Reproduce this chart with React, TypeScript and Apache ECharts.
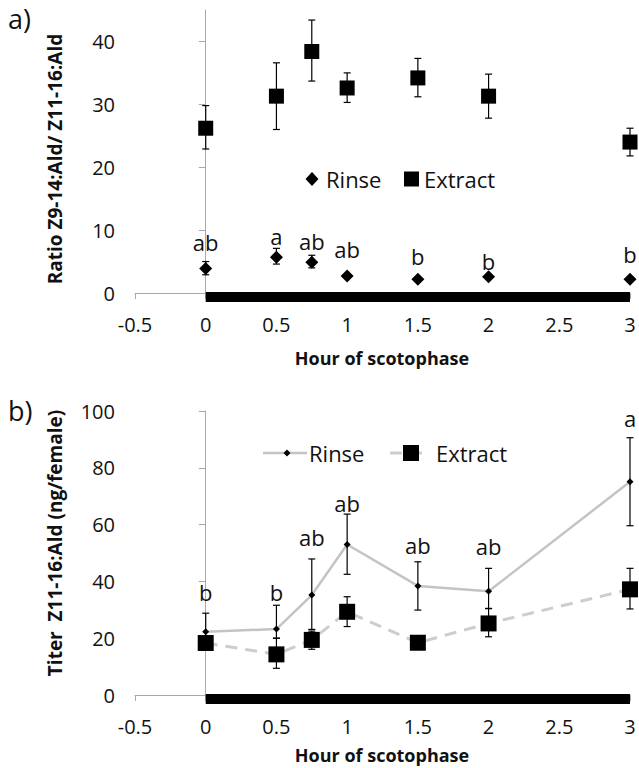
import React, { useEffect, useRef } from 'react';
import * as echarts from 'echarts';

// ---- data ----
const hours = [0, 0.5, 0.75, 1, 1.5, 2, 3];

// (a) Ratio Z9-14:Ald / Z11-16:Ald
const ratioExtract = [26.2, 31.3, 38.4, 32.6, 34.2, 31.3, 24.0];
const ratioExtractHi = [29.8, 36.6, 43.4, 35.0, 37.3, 34.8, 26.2];
const ratioExtractLo = [22.9, 26.0, 33.7, 30.3, 31.2, 27.8, 21.8];
const ratioRinse = [3.9, 5.7, 4.9, 2.7, 2.2, 2.6, 2.2];
const ratioRinseHi = [5.0, 7.1, 6.0, 2.7, 2.2, 2.6, 2.2];
const ratioRinseLo = [2.9, 4.6, 4.0, 2.7, 2.2, 2.6, 2.2];
const ratioLetters = ['ab', 'a', 'ab', 'ab', 'b', 'b', 'b'];
const ratioLetterLevel = [8.1, 9.1, 8.3, 7.0, 5.9, 5.1, 6.2];
const ratioTicks = [0, 10, 20, 30, 40];

// (b) Titer Z11-16:Ald (ng/female)
const titerRinse = [22.3, 23.2, 35.2, 53.0, 38.4, 36.5, 75.1];
const titerRinseHi = [28.8, 31.6, 47.9, 63.7, 46.9, 44.6, 90.6];
const titerRinseLo = [16.5, 20.0, 23.1, 42.5, 29.9, 30.4, 59.6];
const titerExtract = [18.3, 14.3, 19.4, 29.3, 18.4, 25.2, 37.2];
const titerExtractHi = [19.5, 20.0, 22.5, 34.6, 18.4, 30.5, 44.6];
const titerExtractLo = [16.5, 9.4, 16.1, 24.1, 18.4, 20.5, 30.3];
const titerLetters = ['b', 'b', 'ab', 'ab', 'ab', 'ab', 'a'];
const titerLetterLevel = [36.3, 36.3, 55.8, 67.5, 52.7, 52.5, 97.4];

const darkPeriod = [0, 3];
const xTitle = 'Hour of scotophase';
const yTitleA = 'Ratio Z9-14:Ald/ Z11-16:Ald';
const yTitleB = 'Titer  Z11-16:Ald (ng/female)';

const FONT = '"Open Sans", "Liberation Sans", sans-serif';
const TXT = '#111';
const AXIS_GRAY = '#a9a9a9';

const errData = (lo: number[], hi: number[]) =>
  hours.map((h, i) => [h, lo[i], hi[i]]).filter((d) => d[2] - d[1] > 0.01);

const errRender = (params: any, api: any) => {
  const x = api.value(0);
  const top = api.coord([x, api.value(2)]);
  const bot = api.coord([x, api.value(1)]);
  const cap = 3.5;
  const style = { stroke: '#000', lineWidth: 1.2 };
  return {
    type: 'group',
    children: [
      { type: 'line', shape: { x1: top[0], y1: top[1], x2: bot[0], y2: bot[1] }, style },
      { type: 'line', shape: { x1: top[0] - cap, y1: top[1], x2: top[0] + cap, y2: top[1] }, style },
      { type: 'line', shape: { x1: bot[0] - cap, y1: bot[1], x2: bot[0] + cap, y2: bot[1] }, style },
    ],
  };
};

const letterRender = (letters: string[]) => (params: any, api: any) => {
  const p = api.coord([api.value(0), api.value(1)]);
  return {
    type: 'text',
    x: p[0],
    y: p[1],
    style: {
      text: letters[params.dataIndex],
      fill: TXT,
      font: `22px ${FONT}`,
      align: 'center',
      verticalAlign: 'middle',
    },
  };
};

const darkRender = (params: any, api: any) => {
  const a = api.coord([api.value(0), 0]);
  const b = api.coord([api.value(1), 0]);
  return {
    type: 'rect',
    shape: { x: a[0], y: a[1] - 1, width: b[0] - a[0], height: 10 },
    style: { fill: '#000' },
  };
};

const xAxisBase = (gridIndex: number) => ({
  type: 'value',
  gridIndex,
  min: -0.5,
  max: 3,
  interval: 0.5,
  splitLine: { show: false },
  axisLine: { show: true, onZero: false, lineStyle: { color: AXIS_GRAY, width: 1 } },
  axisTick: { show: true, inside: false, length: 6, lineStyle: { color: AXIS_GRAY } },
  axisLabel: { fontSize: 20, fontFamily: FONT, color: TXT, margin: 21 },
});

const Y_MARGIN = 20;

const yAxisBase = (gridIndex: number) => ({
  type: 'value',
  gridIndex,
  splitLine: { show: false },
  axisLine: { show: true, lineStyle: { color: AXIS_GRAY, width: 1 } },
  axisTick: { show: true, inside: false, length: 7, lineStyle: { color: AXIS_GRAY } },
  axisLabel: { fontSize: 20, fontFamily: FONT, color: TXT, margin: Y_MARGIN },
});

const legendGraphics = () => {
  const els: any[] = [];
  // (a) legend
  const ya = 179;
  els.push({ type: 'polygon', shape: { points: [[312, ya - 7], [318.5, ya], [312, ya + 7], [305.5, ya]] }, style: { fill: '#000' } });
  els.push({ type: 'text', x: 326, y: ya, style: { text: 'Rinse', font: `22px ${FONT}`, fill: TXT, verticalAlign: 'middle' } });
  els.push({ type: 'rect', shape: { x: 404, y: ya - 7.5, width: 15, height: 15 }, style: { fill: '#000' } });
  els.push({ type: 'text', x: 424, y: ya, style: { text: 'Extract', font: `22px ${FONT}`, fill: TXT, verticalAlign: 'middle' } });
  // (b) legend
  const yb = 453;
  els.push({ type: 'line', shape: { x1: 263, y1: yb, x2: 307, y2: yb }, style: { stroke: '#c4c4c4', lineWidth: 2.5 } });
  els.push({ type: 'polygon', shape: { points: [[287, yb - 3.5], [290.5, yb], [287, yb + 3.5], [283.5, yb]] }, style: { fill: '#000' } });
  els.push({ type: 'text', x: 309, y: yb, style: { text: 'Rinse', font: `22px ${FONT}`, fill: TXT, verticalAlign: 'middle' } });
  els.push({ type: 'line', shape: { x1: 390, y1: yb, x2: 430, y2: yb }, style: { stroke: '#cdcdcd', lineWidth: 3, lineDash: [12, 8] } });
  els.push({ type: 'rect', shape: { x: 403, y: yb - 8, width: 16, height: 16 }, style: { fill: '#000' } });
  els.push({ type: 'text', x: 436, y: yb, style: { text: 'Extract', font: `22px ${FONT}`, fill: TXT, verticalAlign: 'middle' } });
  return els;
};

const option: any = {
  animation: false,
  backgroundColor: '#fff',
  textStyle: { fontFamily: FONT },
  grid: [
    { left: 135, right: 9, top: 10, height: 283 },
    { left: 135, right: 9, top: 411, height: 284 },
  ],
  xAxis: [xAxisBase(0), xAxisBase(1)],
  yAxis: [
    {
      ...yAxisBase(0),
      min: 0,
      max: 45,
      interval: 10,
      axisTick: { show: true, inside: false, length: 7, lineStyle: { color: AXIS_GRAY }, customValues: ratioTicks },
      axisLabel: { fontSize: 20, fontFamily: FONT, color: TXT, margin: Y_MARGIN, customValues: ratioTicks },
    },
    { ...yAxisBase(1), min: 0, max: 100, interval: 20 },
  ],
  graphic: [
    { type: 'text', left: 8, top: 5, style: { text: 'a)', font: `27px ${FONT}`, fill: TXT } },
    { type: 'text', left: 8, top: 397, style: { text: 'b)', font: `27px ${FONT}`, fill: TXT } },
    {
      type: 'text', x: 55, y: 159, rotation: Math.PI / 2,
      style: { text: yTitleA, font: `bold 19px ${FONT}`, fill: TXT, align: 'center', verticalAlign: 'middle' },
    },
    {
      type: 'text', x: 55, y: 543, rotation: Math.PI / 2,
      style: { text: yTitleB, font: `bold 19px ${FONT}`, fill: TXT, align: 'center', verticalAlign: 'middle' },
    },
    {
      type: 'text', x: 382, y: 358,
      style: { text: xTitle, font: `bold 18px ${FONT}`, fill: TXT, align: 'center', verticalAlign: 'middle' },
    },
    {
      type: 'text', x: 382, y: 755,
      style: { text: xTitle, font: `bold 18px ${FONT}`, fill: TXT, align: 'center', verticalAlign: 'middle' },
    },
    ...legendGraphics(),
  ],
  series: [
    // ----- (a) -----
    { type: 'custom', name: 'dark a', xAxisIndex: 0, yAxisIndex: 0, data: [darkPeriod], renderItem: darkRender, z: 1, silent: true },
    { type: 'custom', name: 'err extract a', xAxisIndex: 0, yAxisIndex: 0, data: errData(ratioExtractLo, ratioExtractHi), renderItem: errRender, z: 2 },
    { type: 'custom', name: 'err rinse a', xAxisIndex: 0, yAxisIndex: 0, data: errData(ratioRinseLo, ratioRinseHi), renderItem: errRender, z: 2 },
    {
      type: 'scatter', name: 'Extract', xAxisIndex: 0, yAxisIndex: 0,
      data: hours.map((h, i) => [h, ratioExtract[i]]),
      symbol: 'rect', symbolSize: 15, itemStyle: { color: '#000', opacity: 1 }, z: 3,
    },
    {
      type: 'scatter', name: 'Rinse', xAxisIndex: 0, yAxisIndex: 0,
      data: hours.map((h, i) => [h, ratioRinse[i]]),
      symbol: 'diamond', symbolSize: [13, 13], itemStyle: { color: '#000', opacity: 1 }, z: 3,
    },
    {
      type: 'custom', name: 'letters a', xAxisIndex: 0, yAxisIndex: 0,
      data: hours.map((h, i) => [h, ratioLetterLevel[i]]), renderItem: letterRender(ratioLetters), z: 4,
    },
    // ----- (b) -----
    { type: 'custom', name: 'dark b', xAxisIndex: 1, yAxisIndex: 1, data: [darkPeriod], renderItem: darkRender, z: 1, silent: true },
    {
      type: 'line', name: 'Extract', xAxisIndex: 1, yAxisIndex: 1,
      data: hours.map((h, i) => [h, titerExtract[i]]),
      symbol: 'none',
      lineStyle: { color: '#cdcdcd', width: 3, type: [12, 8] }, z: 2,
    },
    {
      type: 'line', name: 'Rinse', xAxisIndex: 1, yAxisIndex: 1,
      data: hours.map((h, i) => [h, titerRinse[i]]),
      symbol: 'none',
      lineStyle: { color: '#c4c4c4', width: 2.5 }, z: 2,
    },
    { type: 'custom', name: 'err rinse b', xAxisIndex: 1, yAxisIndex: 1, data: errData(titerRinseLo, titerRinseHi), renderItem: errRender, z: 3 },
    { type: 'custom', name: 'err extract b', xAxisIndex: 1, yAxisIndex: 1, data: errData(titerExtractLo, titerExtractHi), renderItem: errRender, z: 3 },
    {
      type: 'scatter', name: 'Extract markers', xAxisIndex: 1, yAxisIndex: 1,
      data: hours.map((h, i) => [h, titerExtract[i]]),
      symbol: 'rect', symbolSize: 16, itemStyle: { color: '#000', opacity: 1 }, z: 4,
    },
    {
      type: 'scatter', name: 'Rinse markers', xAxisIndex: 1, yAxisIndex: 1,
      data: hours.map((h, i) => [h, titerRinse[i]]),
      symbol: 'diamond', symbolSize: 7, itemStyle: { color: '#000', opacity: 1 }, z: 5,
    },
    {
      type: 'custom', name: 'letters b', xAxisIndex: 1, yAxisIndex: 1,
      data: hours.map((h, i) => [h, titerLetterLevel[i]]), renderItem: letterRender(titerLetters), z: 6,
    },
  ],
};

export default function App() {
  const ref = useRef<HTMLDivElement>(null);
  useEffect(() => {
    document.body.style.margin = '0';
    const chart = echarts.init(ref.current as HTMLDivElement, null, { renderer: 'svg' });
    chart.setOption(option);
    return () => chart.dispose();
  }, []);
  return <div ref={ref} style={{ width: 639, height: 768 }} />;
}
